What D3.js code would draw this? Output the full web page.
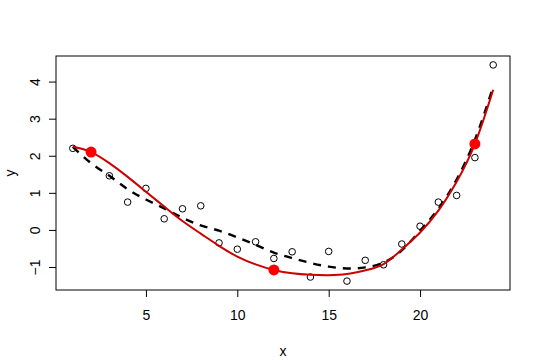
<!DOCTYPE html>
<html>
<head>
<meta charset="utf-8">
<script src="https://cdn.jsdelivr.net/npm/d3@7"></script>
<style>
  html, body { margin: 0; padding: 0; background: #fff; }
  svg { display: block; }
  text { font-family: "Liberation Sans", Arial, sans-serif; fill: #000; }
</style>
</head>
<body>
<svg id="chart" width="540" height="360"></svg>
<script>
// ---- data ----
const xValues = [1,2,3,4,5,6,7,8,9,10,11,12,13,14,15,16,17,18,19,20,21,22,23,24];
const yObserved = [2.20, 2.10, 1.46, 0.75, 1.12, 0.30, 0.57, 0.65, -0.35, -0.52, -0.32, -0.77,
                   -0.59, -1.27, -0.58, -1.38, -0.82, -0.94, -0.38, 0.10, 0.75, 0.93, 1.95, 4.45];
const dashedFit = [2.24, 1.80, 1.46, 1.10, 0.82, 0.58, 0.33, 0.12, -0.02, -0.20, -0.40, -0.61,
                   -0.76, -0.89, -0.99, -1.04, -1.01, -0.88, -0.55, -0.02, 0.57, 1.36, 2.43, 3.86];
const redFit = [2.25, 2.10, 1.80, 1.43, 1.03, 0.63, 0.24, -0.10, -0.43, -0.72, -0.93, -1.08,
                -1.17, -1.21, -1.22, -1.19, -1.09, -0.92, -0.53, -0.07, 0.52, 1.30, 2.32, 3.78];
const knotX = [2, 12, 23];
const knotY = [2.10, -1.08, 2.32];
const xTicks = [5, 10, 15, 20];
const yTicks = [-1, 0, 1, 2, 3, 4];
const xLabel = "x";
const yLabel = "y";

// ---- layout ----
const svg = d3.select("#chart");
const pL = 56, pR = 510, pT = 56, pB = 290;

const x = d3.scaleLinear().domain([0.08, 24.92]).range([pL, pR]);
const y = d3.scaleLinear().domain([-1.62, 4.69]).range([pB, pT]);

// box
svg.append("rect")
  .attr("x", pL).attr("y", pT)
  .attr("width", pR - pL).attr("height", pB - pT)
  .attr("fill", "none").attr("stroke", "#000").attr("stroke-width", 1);

// x axis
const xAxis = d3.axisBottom(x).tickValues(xTicks).tickSize(7).tickPadding(13);
const gx = svg.append("g").attr("transform", `translate(0,${pB})`).call(xAxis);
gx.select(".domain").remove();
gx.selectAll("text").style("font-size", "14px").attr("font-family", "Liberation Sans, Arial, sans-serif");

// y axis
const yAxis = d3.axisLeft(y).tickValues(yTicks).tickSize(7).tickFormat(d3.format("d"));
const gy = svg.append("g").attr("transform", `translate(${pL},0)`).call(yAxis);
gy.select(".domain").remove();
gy.selectAll(".tick text").remove();
gy.selectAll(".tick").append("text")
  .style("font-size", "14px")
  .attr("font-family", "Liberation Sans, Arial, sans-serif")
  .attr("fill", "#000")
  .attr("text-anchor", "middle")
  .attr("transform", "translate(-21,0) rotate(-90)")
  .attr("dy", "0.35em")
  .text(d => d3.format("d")(d));

// axis titles
svg.append("text").attr("x", (pL + pR) / 2).attr("y", 356)
  .attr("text-anchor", "middle").style("font-size", "14px").text(xLabel);
svg.append("text").attr("transform", `translate(15,${(pT + pB) / 2}) rotate(-90)`)
  .attr("text-anchor", "middle").style("font-size", "14px").text(yLabel);

// clip
svg.append("clipPath").attr("id", "clip").append("rect")
  .attr("x", pL).attr("y", pT).attr("width", pR - pL).attr("height", pB - pT);
const plot = svg.append("g").attr("clip-path", "url(#clip)");

// observed points
plot.selectAll("circle.obs").data(xValues.map((v, i) => [v, yObserved[i]]))
  .enter().append("circle").attr("class", "obs")
  .attr("cx", d => x(d[0])).attr("cy", d => y(d[1])).attr("r", 3.3)
  .attr("fill", "none").attr("stroke", "#000").attr("stroke-width", 1);

const line = d3.line().x(d => x(d[0])).y(d => y(d[1])).curve(d3.curveNatural);

// dashed fit
plot.append("path").datum(xValues.map((v, i) => [v, dashedFit[i]]))
  .attr("d", line).attr("fill", "none").attr("stroke", "#000")
  .attr("stroke-width", 2.4).attr("stroke-dasharray", "8,7");

// red fit
plot.append("path").datum(xValues.map((v, i) => [v, redFit[i]]))
  .attr("d", line).attr("fill", "none").attr("stroke", "#cd0000")
  .attr("stroke-width", 2);

// knots
plot.selectAll("circle.knot").data(knotX.map((v, i) => [v, knotY[i]]))
  .enter().append("circle").attr("class", "knot")
  .attr("cx", d => x(d[0])).attr("cy", d => y(d[1])).attr("r", 5.5)
  .attr("fill", "#ff0000");
</script>
</body>
</html>
